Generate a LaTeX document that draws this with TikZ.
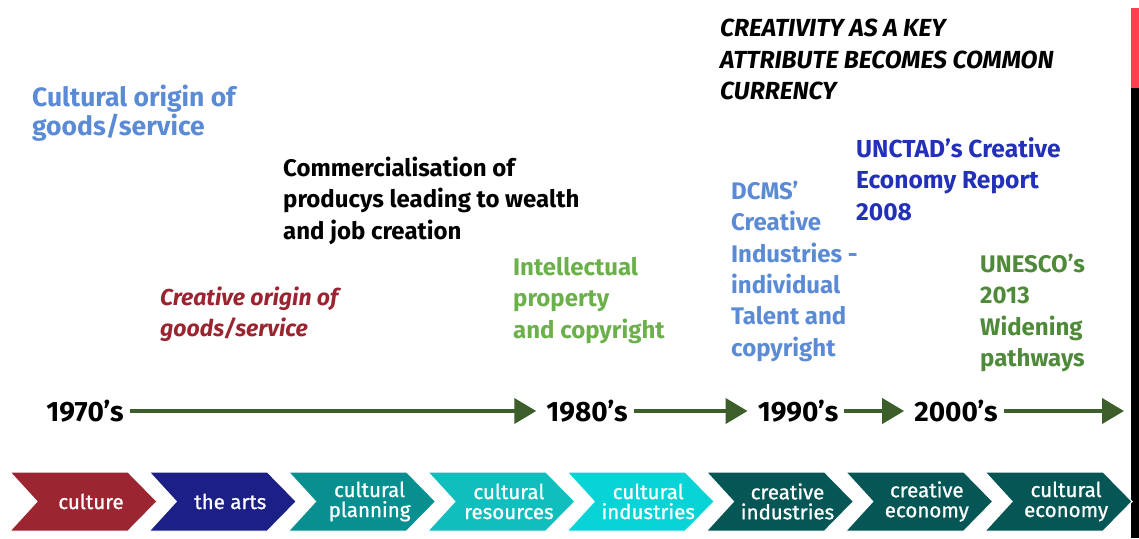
\documentclass[tikz,border=0pt]{standalone}
\usepackage{fontspec}
\setmainfont{Fira Sans}
\newfontfamily\chfont{Fira Sans}[FakeBold=0.9]
\usetikzlibrary{arrows.meta}
\definecolor{cblue}{HTML}{5B8BD5}
\definecolor{cnavy}{HTML}{2231B8}
\definecolor{cdred}{HTML}{9A2530}
\definecolor{cgreenA}{HTML}{6BB04A}
\definecolor{cgreenB}{HTML}{4F8A3A}
\definecolor{carrow}{HTML}{3B5E2B}
\definecolor{chA}{HTML}{9B2631}
\definecolor{chB}{HTML}{1B1F86}
\definecolor{chC}{HTML}{088F8F}
\definecolor{chD}{HTML}{11BEBE}
\definecolor{chE}{HTML}{08D3D6}
\definecolor{chF}{HTML}{055654}
\definecolor{cbar}{HTML}{FF3E4E}
\tikzset{
  note/.style={anchor=north west, inner sep=0pt, align=left, font=\fontsize{24}{31.3}\selectfont\bfseries},
  year/.style={inner sep=0pt, font=\fontsize{28}{30}\selectfont\bfseries, text=black},
  tline/.style={draw=carrow, line width=4pt, -{Triangle[length=22pt,width=25pt]}, shorten <=6pt, shorten >=10pt},
  chlabel/.style={inner sep=0pt, align=center, text=white, font=\fontsize{20.5}{20}\selectfont\chfont}
}
\begin{document}
\begin{tikzpicture}[x=1pt,y=-1pt]
\useasboundingbox (0,0) rectangle (1139,538);
% right bar
\fill[cbar] (1131,8) rectangle (1139,88);
\fill[black] (1131,88) rectangle (1139,538);
% chevrons
\foreach \i/\col/\txt/\nm in {0/chA/culture/c1, 1/chB/the arts/c2, 2/chC/cultural\\planning/c3, 3/chD/cultural\\resources/c4, 4/chE/cultural\\industries/c5, 5/chF/creative\\industries/c6, 6/chF/creative\\economy/c7, 7/chF/cultural\\economy/c8}{
  \pgfmathsetmacro{\xo}{10+139.3*\i}
  \fill[\col, draw=white, line width=1pt] (\xo,472) -- (\xo+118,472) -- (\xo+147,501.5) -- (\xo+118,531) -- (\xo,531) -- (\xo+27,501.5) -- cycle;
  \node[chlabel] (\nm) at (\xo+81,501.5) {\txt};
}
% timeline
\node[year] (t70) at (85,411) {1970’s};
\node[year] (t80) at (587,411) {1980’s};
\node[year] (t90) at (798,411) {1990’s};
\node[year] (t00) at (956,411) {2000’s};
\coordinate (tend) at (1134,411);
\draw[tline] (t70.east) -- (t80.west);
\draw[tline] (t80.east) -- (t90.west);
\draw[tline] (t90.east) -- (t00.west);
\draw[tline] (t00.east) -- (tend);
% notes
\node[note, text=black, font=\fontsize{24.7}{31.5}\selectfont\bfseries\itshape] (key) at (720,19) {CREATIVITY AS A KEY\\ATTRIBUTE BECOMES COMMON\\CURRENCY};
\node[note, text=cblue, font=\fontsize{26.5}{29}\selectfont\bfseries] (cult) at (32,85) {Cultural origin of\\goods/service};
\node[note, text=black] (comm) at (283,157) {Commercialisation of\\producys leading to wealth\\and job creation};
\node[note, text=cdred, font=\fontsize{23}{31}\selectfont\bfseries\itshape] (crea) at (160,287) {Creative origin of\\goods/service};
\node[note, text=cgreenA] (ip) at (513,257) {Intellectual\\property\\and copyright};
\node[note, text=cblue] (dcms) at (731,181) {DCMS’\\Creative\\Industries -\\individual\\Talent and\\copyright};
\node[note, text=cnavy, font=\fontsize{24.6}{31.5}\selectfont\bfseries] (unctad) at (856,137) {UNCTAD’s Creative\\Economy Report\\2008};
\node[note, text=cgreenB] (unesco) at (980,254) {UNESCO’s\\2013\\Widening\\pathways};
\end{tikzpicture}
\end{document}
